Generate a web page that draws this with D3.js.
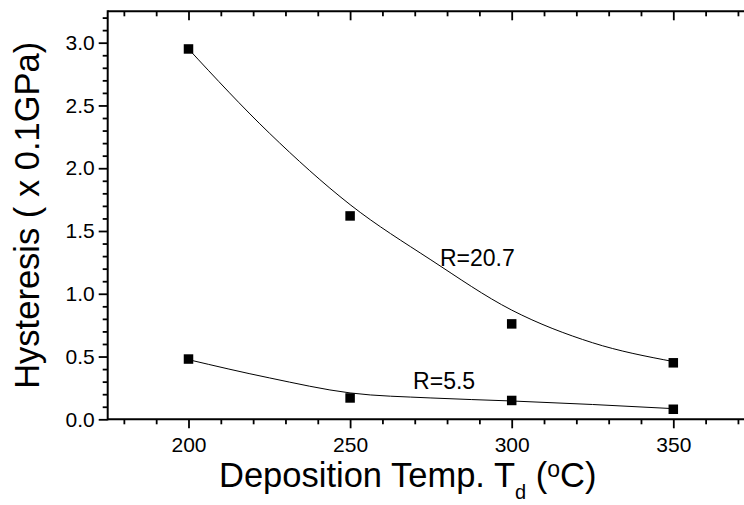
<!DOCTYPE html>
<html><head><meta charset="utf-8">
<script src="https://cdn.jsdelivr.net/npm/d3@7/dist/d3.min.js"></script>
<style>
body{margin:0;background:#fff;}
text{font-family:"Liberation Sans",Arial,sans-serif;fill:#000;}
</style></head><body>
<svg id="chart" width="744" height="505"></svg>
<script>
const temps = [200, 250, 300, 350];
const hystR207 = [2.95, 1.62, 0.76, 0.45];
const hystR55 = [0.48, 0.17, 0.15, 0.08];
const fitTemps = [200, 225, 250, 275, 300, 325, 350];
const fitR207 = [2.95, 2.28, 1.71, 1.27, 0.87, 0.61, 0.46];
const fitR55 = [0.475, 0.33, 0.21, 0.17, 0.146, 0.118, 0.085];
const xMajorTicks = [200, 250, 300, 350];
const yMajorTicks = [0, 0.5, 1.0, 1.5, 2.0, 2.5, 3.0];
const labels = [{text: "R=20.7", t: 277.8, v: 1.22}, {text: "R=5.5", t: 269.5, v: 0.24}];

const svg = d3.select("#chart");
const pLeft = 107.7, pRight = 754.1, pTop = 11.3, pBottom = 419.3;
const x = d3.scaleLinear().domain([175, 375]).range([pLeft, pRight]);
const y = d3.scaleLinear().domain([0, 3.25]).range([pBottom, pTop]);

const xMinor = d3.range(180, 375, 10).filter(v => v % 50 !== 0);
const yMinor = d3.range(1, 33).map(v => v / 10).filter(v => Math.round(v * 10) % 5 !== 0);

function styleAxis(g) {
  g.select(".domain").remove();
  g.selectAll("line").attr("stroke", "#000").attr("stroke-width", 1.8);
  g.selectAll("text").attr("font-size", "21px").attr("font-family", "Liberation Sans, Arial, sans-serif");
}

// bottom axis
svg.append("g").attr("transform", `translate(0,${pBottom})`)
  .call(d3.axisBottom(x).tickValues(xMajorTicks).tickSize(9).tickPadding(9).tickFormat(d3.format("d")))
  .call(styleAxis);
svg.append("g").attr("transform", `translate(0,${pBottom})`)
  .call(d3.axisBottom(x).tickValues(xMinor).tickSize(5).tickFormat(""))
  .call(styleAxis);
// top axis (inward ticks)
svg.append("g").attr("transform", `translate(0,${pTop})`)
  .call(d3.axisBottom(x).tickValues(xMajorTicks).tickSize(9).tickFormat(""))
  .call(styleAxis);
svg.append("g").attr("transform", `translate(0,${pTop})`)
  .call(d3.axisBottom(x).tickValues(xMinor).tickSize(5).tickFormat(""))
  .call(styleAxis);
// left axis
svg.append("g").attr("transform", `translate(${pLeft},0)`)
  .call(d3.axisLeft(y).tickValues(yMajorTicks).tickSize(9).tickPadding(4).tickFormat(d3.format(".1f")))
  .call(styleAxis);
svg.append("g").attr("transform", `translate(${pLeft},0)`)
  .call(d3.axisLeft(y).tickValues(yMinor).tickSize(5).tickFormat(""))
  .call(styleAxis);

// frame lines
svg.append("line").attr("x1", pLeft).attr("x2", 744).attr("y1", pBottom).attr("y2", pBottom).attr("stroke", "#000").attr("stroke-width", 2);
svg.append("line").attr("x1", pLeft).attr("x2", 744).attr("y1", pTop).attr("y2", pTop).attr("stroke", "#000").attr("stroke-width", 2);
svg.append("line").attr("x1", pLeft).attr("x2", pLeft).attr("y1", pTop - 1).attr("y2", pBottom + 1).attr("stroke", "#000").attr("stroke-width", 2);

// fit curves
const line = d3.line().x(d => x(d[0])).y(d => y(d[1])).curve(d3.curveMonotoneX);
[fitR207, fitR55].forEach(arr => {
  svg.append("path").datum(fitTemps.map((t, i) => [t, arr[i]]))
    .attr("d", line).attr("fill", "none").attr("stroke", "#000").attr("stroke-width", 1);
});

// markers
const ms = 9.5;
[hystR207, hystR55].forEach(arr => {
  svg.append("g").selectAll("rect").data(temps.map((t, i) => [t, arr[i]])).join("rect")
    .attr("x", d => x(d[0]) - ms / 2).attr("y", d => y(d[1]) - ms / 2)
    .attr("width", ms).attr("height", ms).attr("fill", "#000");
});

// R labels
svg.append("g").selectAll("text").data(labels).join("text")
  .attr("x", d => x(d.t)).attr("y", d => y(d.v)).attr("font-size", "23px").text(d => d.text);

// x axis title
const xt = svg.append("text").attr("x", 219).attr("y", 487).attr("font-size", "34.5px");
xt.append("tspan").text("Deposition Temp. T");
xt.append("tspan").attr("font-size", "20px").attr("dy", 12).text("d");
xt.append("tspan").attr("dy", -12).text(" (");
xt.append("tspan").attr("font-size", "23px").attr("dy", -10).text("o");
xt.append("tspan").attr("dy", 10).text("C)");

// y axis title
svg.append("text").attr("transform", `translate(39,${(pTop + pBottom) / 2}) rotate(-90)`)
  .attr("text-anchor", "middle").attr("font-size", "34.5px").text("Hysteresis ( x 0.1GPa)");
</script>
</body></html>
